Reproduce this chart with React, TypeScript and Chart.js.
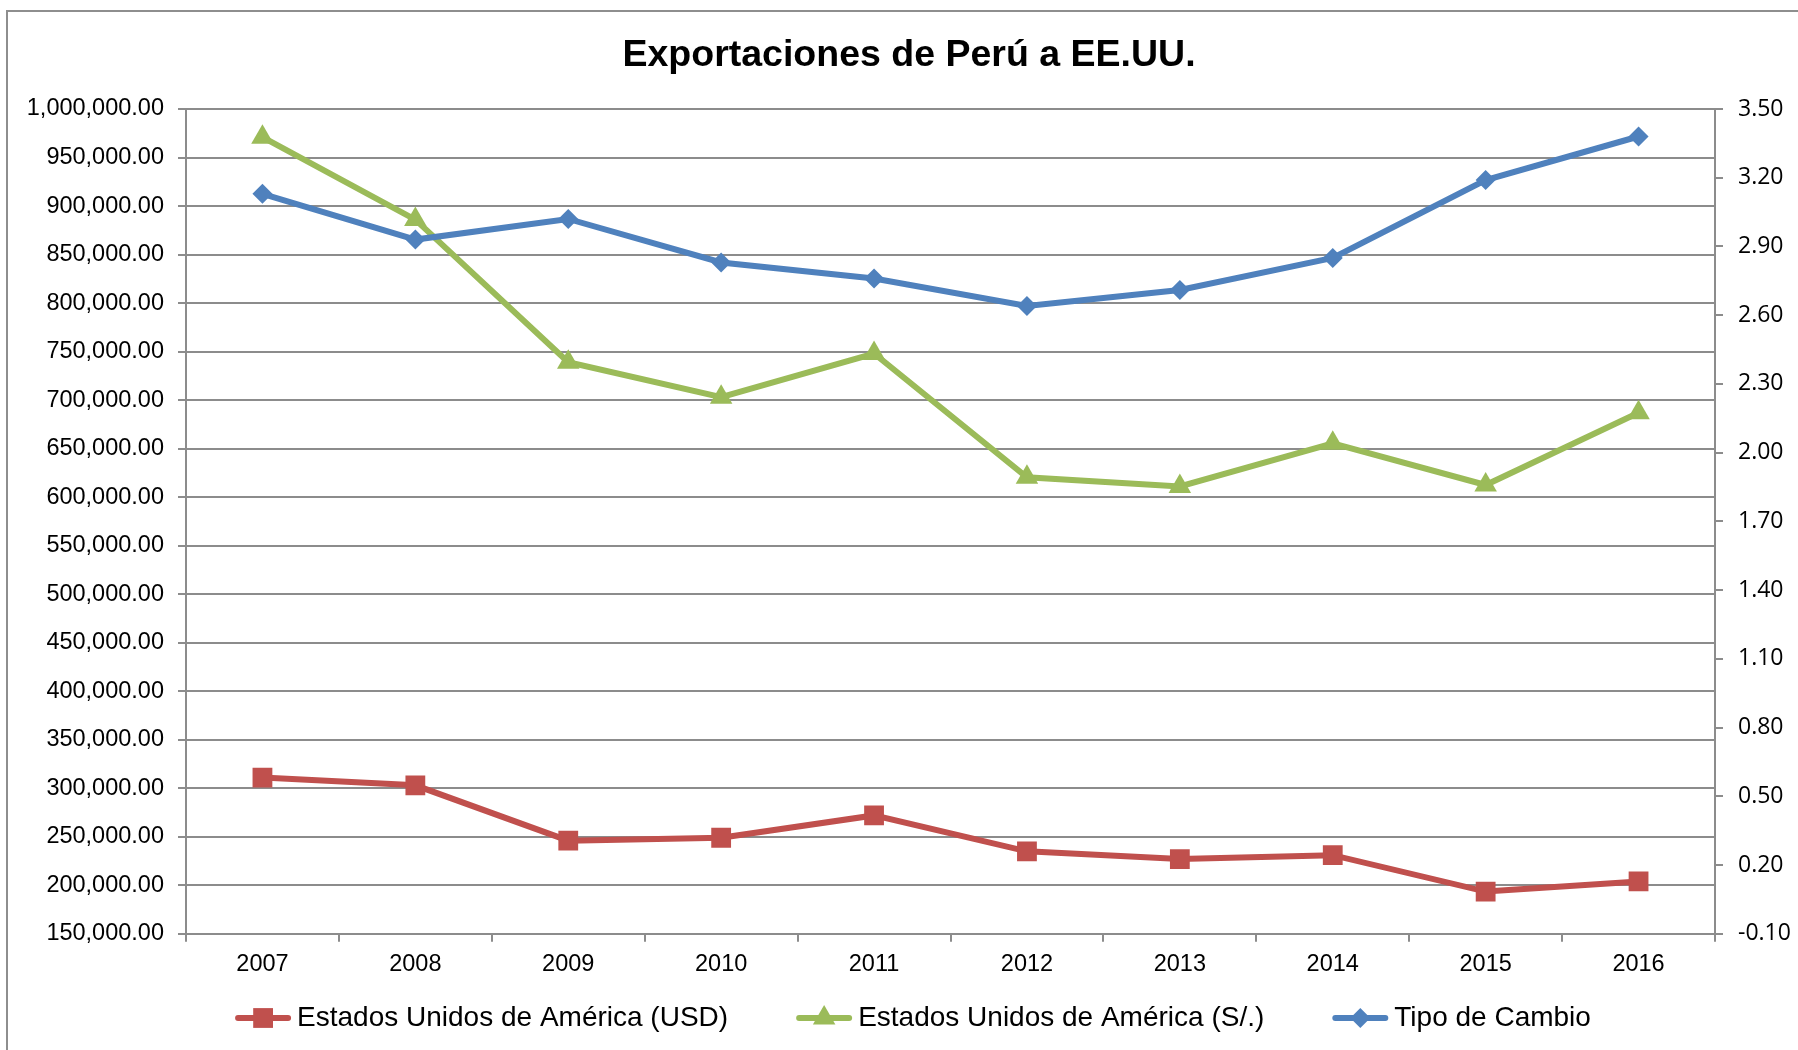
import React, { useEffect, useRef } from 'react';
import { Chart, registerables } from 'chart.js';

Chart.register(...registerables);

// ---- Data ----
const YEARS = ['2007', '2008', '2009', '2010', '2011', '2012', '2013', '2014', '2015', '2016'];
const USD = [311000, 303000, 246000, 249000, 272000, 235000, 227000, 231000, 193500, 204000];
const SOLES = [971000, 886000, 739000, 703000, 748000, 620500, 611000, 655500, 612500, 687000];
const TIPO_CAMBIO = [3.13, 2.93, 3.02, 2.83, 2.76, 2.64, 2.71, 2.85, 3.19, 3.38];
const RIGHT_TICKS = [-0.1, 0.2, 0.5, 0.8, 1.1, 1.4, 1.7, 2.0, 2.3, 2.6, 2.9, 3.2, 3.5];
const LEFT_MIN = 150000;
const LEFT_MAX = 1000000;
const LEFT_STEP = 50000;
const TITLE = 'Exportaciones de Perú a EE.UU.';
const SERIES_NAMES = [
  'Estados Unidos de América (USD)',
  'Estados Unidos de América (S/.)',
  'Tipo de Cambio',
];

const RED = '#C0504D';
const GREEN = '#9BBB59';
const BLUE = '#4F81BD';
const GRID = '#8c8c8c';
const FONT = 'Liberation Sans';

function drawMarker(ctx: CanvasRenderingContext2D, style: string, x: number, y: number, r: number) {
  ctx.beginPath();
  if (style === 'rect') {
    const s = Math.SQRT1_2 * r;
    ctx.rect(x - s, y - s, 2 * s, 2 * s);
  } else if (style === 'triangle') {
    let rad = 0;
    ctx.moveTo(x + Math.sin(rad) * r, y - Math.cos(rad) * r);
    rad += (2 * Math.PI) / 3;
    ctx.lineTo(x + Math.sin(rad) * r, y - Math.cos(rad) * r);
    rad += (2 * Math.PI) / 3;
    ctx.lineTo(x + Math.sin(rad) * r, y - Math.cos(rad) * r);
    ctx.closePath();
  } else {
    ctx.moveTo(x, y - r);
    ctx.lineTo(x + r, y);
    ctx.lineTo(x, y + r);
    ctx.lineTo(x - r, y);
    ctx.closePath();
  }
  ctx.fill();
}

const excelLegend = {
  id: 'excelLegend',
  afterDraw(chart: any) {
    const ctx: CanvasRenderingContext2D = chart.ctx;
    ctx.save();
    ctx.font = `28px "${FONT}"`;
    const lineLen = 56;
    const gapText = 6;
    const gapItem = 68;
    const cy = 1018;
    const centerX = 913;
    const ds = chart.data.datasets;
    const widths = ds.map((d: any) => lineLen + gapText + ctx.measureText(d.label).width);
    const total = widths.reduce((a: number, b: number) => a + b, 0) + gapItem * (ds.length - 1);
    let x = centerX - total / 2;
    ds.forEach((d: any, i: number) => {
      ctx.strokeStyle = d.borderColor;
      ctx.lineWidth = 6;
      ctx.lineCap = 'round';
      ctx.beginPath();
      ctx.moveTo(x + 3, cy);
      ctx.lineTo(x + lineLen - 3, cy);
      ctx.stroke();
      ctx.fillStyle = d.borderColor;
      drawMarker(ctx, d.pointStyle, x + lineLen / 2, cy, d.pointRadius);
      ctx.fillStyle = '#000';
      ctx.textAlign = 'left';
      ctx.textBaseline = 'middle';
      ctx.fillText(d.label, x + lineLen + gapText, cy);
      x += widths[i] + gapItem;
    });
    ctx.restore();
  },
};

export default function App() {
  const canvasRef = useRef<HTMLCanvasElement | null>(null);

  useEffect(() => {
    document.body.style.margin = '0';
    document.body.style.overflow = 'hidden';
    const canvas = canvasRef.current;
    if (!canvas) return;
    const tickFont = { family: FONT, size: 23.5 };
    const chart = new Chart(canvas, {
      type: 'line',
      data: {
        labels: YEARS,
        datasets: [
          {
            label: SERIES_NAMES[0],
            data: USD,
            yAxisID: 'y',
            borderColor: RED,
            backgroundColor: RED,
            pointBackgroundColor: RED,
            pointBorderColor: RED,
            pointBorderWidth: 0,
            pointStyle: 'rect',
            pointRadius: 14,
            borderWidth: 6,
            tension: 0,
            order: 2,
          },
          {
            label: SERIES_NAMES[1],
            data: SOLES,
            yAxisID: 'y',
            borderColor: GREEN,
            backgroundColor: GREEN,
            pointBackgroundColor: GREEN,
            pointBorderColor: GREEN,
            pointBorderWidth: 0,
            pointStyle: 'triangle',
            pointRadius: 13,
            borderWidth: 6,
            tension: 0,
            order: 1,
          },
          {
            label: SERIES_NAMES[2],
            data: TIPO_CAMBIO,
            yAxisID: 'y1',
            borderColor: BLUE,
            backgroundColor: BLUE,
            pointBackgroundColor: BLUE,
            pointBorderColor: BLUE,
            pointBorderWidth: 0,
            pointStyle: 'rectRot',
            pointRadius: 10,
            borderWidth: 6,
            tension: 0,
            order: 0,
          },
        ],
      },
      options: {
        responsive: false,
        animation: false,
        layout: { padding: { left: 20, right: 0, top: 0, bottom: 62 } },
        plugins: {
          legend: { display: false },
          tooltip: { enabled: false },
          title: {
            display: true,
            text: TITLE,
            color: '#000',
            font: { family: FONT, size: 37.5, weight: 'bold' },
            padding: { top: 33, bottom: 31 },
          },
        },
        scales: {
          x: {
            type: 'category',
            offset: true,
            grid: {
              display: true,
              drawOnChartArea: false,
              drawTicks: true,
              tickLength: 8,
              offset: true,
              color: GRID,
              lineWidth: 2,
            },
            border: { display: true, color: GRID, width: 2 },
            ticks: { color: '#000', font: tickFont, padding: 9, maxRotation: 0, autoSkip: false },
          },
          y: {
            position: 'left',
            min: LEFT_MIN,
            max: LEFT_MAX,
            ticks: {
              stepSize: LEFT_STEP,
              color: '#000',
              font: tickFont,
              padding: 14,
              callback: (v: any) =>
                Number(v).toLocaleString('en-US', { minimumFractionDigits: 2, maximumFractionDigits: 2 }),
            },
            grid: { color: GRID, lineWidth: 2, drawTicks: true, tickLength: 8 },
            border: { display: true, color: GRID, width: 2 },
            afterFit: (s: any) => {
              s.width = 166;
            },
          },
          y1: {
            position: 'right',
            min: RIGHT_TICKS[0],
            max: RIGHT_TICKS[RIGHT_TICKS.length - 1],
            afterBuildTicks: (s: any) => {
              s.ticks = RIGHT_TICKS.map((v) => ({ value: v }));
            },
            ticks: {
              color: '#000',
              font: { family: 'Open Sans', size: 23 },
              padding: 15,
              callback: (v: any) => Number(v).toFixed(2),
            },
            grid: { drawOnChartArea: false, drawTicks: true, tickLength: 8, color: GRID, lineWidth: 2 },
            border: { display: true, color: GRID, width: 2 },
            afterFit: (s: any) => {
              s.width = 83;
            },
          },
        },
      },
      plugins: [excelLegend],
    } as any);
    return () => chart.destroy();
  }, []);

  return (
    <div style={{ position: 'relative', width: 1798, height: 1050, overflow: 'hidden', background: '#fff' }}>
      <div
        style={{
          position: 'absolute',
          left: 6,
          top: 10,
          width: 1900,
          height: 1100,
          borderTop: '2px solid #8e8e8e',
          borderLeft: '2px solid #8e8e8e',
        }}
      />
      <canvas
        ref={canvasRef}
        width={1798}
        height={1050}
        style={{ position: 'absolute', left: 0, top: 0, width: 1798, height: 1050 }}
      />
    </div>
  );
}
